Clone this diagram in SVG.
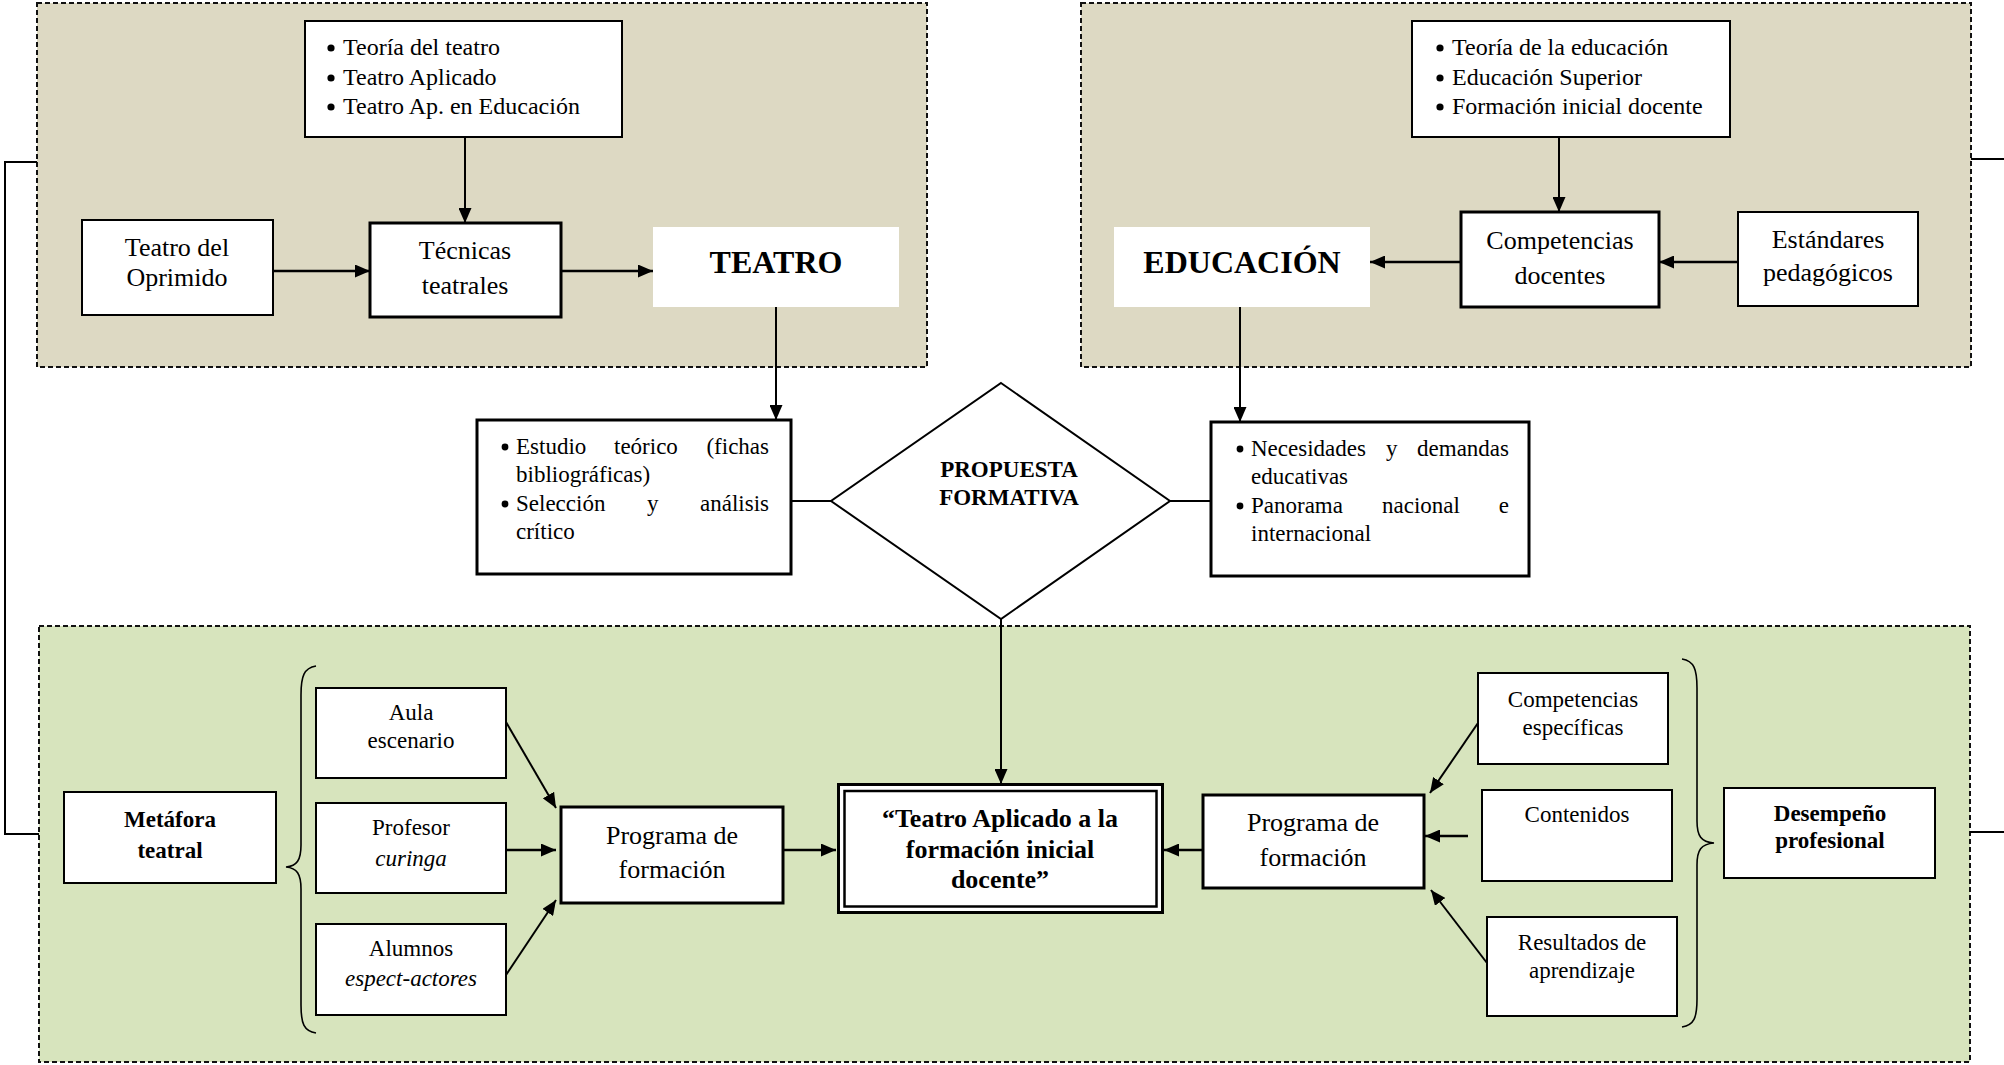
<svg xmlns="http://www.w3.org/2000/svg" width="2004" height="1065" viewBox="0 0 2004 1065">
  <style>
    text { font-family: "Liberation Serif", "Times New Roman", serif; fill: #000; }
    .panel-top { fill: #ddd9c3; stroke: #111; stroke-width: 2; stroke-dasharray: 5 3; }
    .panel-bot { fill: #d7e4bd; stroke: #111; stroke-width: 2; stroke-dasharray: 5 3; }
    .box { fill: #fff; stroke: #000; stroke-width: 2; }
    .box-thick { fill: #fff; stroke: #000; stroke-width: 3; }
    .plain { fill: #fff; stroke: none; }
    .dot { fill: #000; }
    .t24 { font-size: 24px; }
    .t26 { font-size: 26px; text-anchor: middle; }
    .t23 { font-size: 23px; }
    .t23c { font-size: 23px; text-anchor: middle; }
    .b23c { font-size: 23px; font-weight: bold; text-anchor: middle; }
    .b26c { font-size: 26px; font-weight: bold; text-anchor: middle; }
    .b32c { font-size: 32px; font-weight: bold; text-anchor: middle; }
    .it { font-style: italic; }
    .end { text-anchor: end; }
    .link { fill: none; stroke: #000; stroke-width: 2; }
    .arrow { fill: none; stroke: #000; stroke-width: 2.5; marker-end: url(#ah); }
    .brace { fill: none; stroke: #000; stroke-width: 1.6; }
  </style>
  <defs>
    <marker id="ah" markerWidth="15" markerHeight="13" refX="15" refY="6.5" orient="auto" markerUnits="userSpaceOnUse">
      <path d="M0,0 L15,6.5 L0,13 z" fill="#000"/>
    </marker>
  </defs>

  <!-- background panels -->
  <g id="panels">
    <rect class="panel-top" x="37" y="3" width="890" height="364"/>
    <rect class="panel-top" x="1081" y="3" width="890" height="364"/>
    <rect class="panel-bot" x="39" y="626" width="1931" height="436"/>
  </g>

  <!-- connectors -->
  <g id="connectors">
    <!-- side brackets joining the panels -->
    <path class="link" d="M37,162 H5 V834 H39"/>
    <path class="link" d="M1971,159 H2010 V832 H1970"/>
    <!-- theatre panel -->
    <line class="arrow" x1="465" y1="137" x2="465" y2="223" style="stroke-width:2"/>
    <line class="arrow" x1="273" y1="271" x2="370" y2="271"/>
    <line class="arrow" x1="561" y1="271" x2="653" y2="271"/>
    <line class="arrow" x1="776" y1="307" x2="776" y2="420" style="stroke-width:2"/>
    <!-- education panel -->
    <line class="arrow" x1="1559" y1="137" x2="1559" y2="212" style="stroke-width:2"/>
    <line class="arrow" x1="1461" y1="262" x2="1370" y2="262"/>
    <line class="arrow" x1="1738" y1="262" x2="1659" y2="262"/>
    <line class="arrow" x1="1240" y1="307" x2="1240" y2="422" style="stroke-width:2"/>
    <!-- around the proposal -->
    <line class="link" x1="791" y1="501" x2="831" y2="501"/>
    <line class="link" x1="1170" y1="501" x2="1211" y2="501"/>
    <line class="arrow" x1="1001" y1="619" x2="1001" y2="784" style="stroke-width:2"/>
    <!-- left programme -->
    <line class="arrow" x1="506" y1="722" x2="556" y2="808" style="stroke-width:2"/>
    <line class="arrow" x1="506" y1="850" x2="556" y2="850"/>
    <line class="arrow" x1="506" y1="975" x2="556" y2="900" style="stroke-width:2"/>
    <line class="arrow" x1="783" y1="850" x2="836" y2="850"/>
    <!-- right programme -->
    <line class="arrow" x1="1203" y1="850" x2="1164" y2="850"/>
    <line class="arrow" x1="1478" y1="723" x2="1430" y2="793" style="stroke-width:2"/>
    <line class="arrow" x1="1468" y1="836" x2="1425" y2="836"/>
    <line class="arrow" x1="1487" y1="963" x2="1431" y2="890" style="stroke-width:2"/>
    <!-- braces -->
    <path class="brace" d="M316,666 C304,668 301,676 301,695 L301,845 C301,860 297,866 286,867 C297,868 301,874 301,889 L301,1005 C301,1024 304,1031 316,1033"/>
    <path class="brace" d="M1682,659 C1694,661 1697,669 1697,688 L1697,821 C1697,836 1701,842 1714,843 C1701,844 1697,850 1697,865 L1697,999 C1697,1018 1694,1025 1682,1027"/>
  </g>

  <!-- theatre panel nodes -->
  <g id="teoria-teatro">
    <rect class="box" x="305" y="21" width="317" height="116"/>
    <circle class="dot" cx="331" cy="48" r="3.6"/><text class="t24" x="343" y="55">Teoría del teatro</text>
    <circle class="dot" cx="331" cy="78" r="3.6"/><text class="t24" x="343" y="85">Teatro Aplicado</text>
    <circle class="dot" cx="331" cy="107" r="3.6"/><text class="t24" x="343" y="114">Teatro Ap. en Educación</text>
  </g>
  <g id="teatro-oprimido">
    <rect class="box" x="82" y="220" width="191" height="95"/>
    <text class="t26" x="177" y="256">Teatro del</text>
    <text class="t26" x="177" y="286">Oprimido</text>
  </g>
  <g id="tecnicas">
    <rect class="box-thick" x="370" y="223" width="191" height="94"/>
    <text class="t26" x="465" y="259">Técnicas</text>
    <text class="t26" x="465" y="294">teatrales</text>
  </g>
  <g id="teatro">
    <rect class="plain" x="653" y="227" width="246" height="80"/>
    <text class="b32c" x="776" y="273">TEATRO</text>
  </g>

  <!-- education panel nodes -->
  <g id="teoria-educacion">
    <rect class="box" x="1412" y="21" width="318" height="116"/>
    <circle class="dot" cx="1440" cy="48" r="3.6"/><text class="t24" x="1452" y="55">Teoría de la educación</text>
    <circle class="dot" cx="1440" cy="78" r="3.6"/><text class="t24" x="1452" y="85">Educación Superior</text>
    <circle class="dot" cx="1440" cy="107" r="3.6"/><text class="t24" x="1452" y="114">Formación inicial docente</text>
  </g>
  <g id="educacion">
    <rect class="plain" x="1114" y="227" width="256" height="80"/>
    <text class="b32c" x="1242" y="273">EDUCACIÓN</text>
  </g>
  <g id="competencias-docentes">
    <rect class="box-thick" x="1461" y="212" width="198" height="95"/>
    <text class="t26" x="1560" y="249">Competencias</text>
    <text class="t26" x="1560" y="284">docentes</text>
  </g>
  <g id="estandares">
    <rect class="box" x="1738" y="212" width="180" height="94"/>
    <text class="t26" x="1828" y="248">Estándares</text>
    <text class="t26" x="1828" y="281">pedagógicos</text>
  </g>

  <!-- proposal row -->
  <g id="estudio">
    <rect class="box-thick" x="477" y="420" width="314" height="154"/>
    <circle class="dot" cx="505" cy="447" r="3.4"/>
    <text class="t23" x="516" y="454">Estudio</text>
    <text class="t23" x="614" y="454">teórico</text>
    <text class="t23 end" x="769" y="454">(fichas</text>
    <text class="t23" x="516" y="482">bibliográficas)</text>
    <circle class="dot" cx="505" cy="504" r="3.4"/>
    <text class="t23" x="516" y="511">Selección</text>
    <text class="t23" x="647" y="511">y</text>
    <text class="t23 end" x="769" y="511">análisis</text>
    <text class="t23" x="516" y="539">crítico</text>
  </g>
  <g id="propuesta">
    <polygon points="1001,383 1170,501 1001,619 831,501" fill="#fff" stroke="#000" stroke-width="2"/>
    <text class="b23c" x="1009" y="477">PROPUESTA</text>
    <text class="b23c" x="1009" y="505">FORMATIVA</text>
  </g>
  <g id="necesidades">
    <rect class="box-thick" x="1211" y="422" width="318" height="154"/>
    <circle class="dot" cx="1240" cy="449" r="3.4"/>
    <text class="t23" x="1251" y="456">Necesidades</text>
    <text class="t23" x="1386" y="456">y</text>
    <text class="t23 end" x="1509" y="456">demandas</text>
    <text class="t23" x="1251" y="484">educativas</text>
    <circle class="dot" cx="1240" cy="506" r="3.4"/>
    <text class="t23" x="1251" y="513">Panorama</text>
    <text class="t23" x="1382" y="513">nacional</text>
    <text class="t23 end" x="1509" y="513">e</text>
    <text class="t23" x="1251" y="541">internacional</text>
  </g>

  <!-- training panel: left side -->
  <g id="metafora">
    <rect class="box" x="64" y="792" width="212" height="91"/>
    <text class="b23c" x="170" y="827">Metáfora</text>
    <text class="b23c" x="170" y="858">teatral</text>
  </g>
  <g id="aula">
    <rect class="box" x="316" y="688" width="190" height="90"/>
    <text class="t23c" x="411" y="720">Aula</text>
    <text class="t23c" x="411" y="748">escenario</text>
  </g>
  <g id="profesor">
    <rect class="box" x="316" y="803" width="190" height="90"/>
    <text class="t23c" x="411" y="835">Profesor</text>
    <text class="t23c it" x="411" y="866">curinga</text>
  </g>
  <g id="alumnos">
    <rect class="box" x="316" y="924" width="190" height="91"/>
    <text class="t23c" x="411" y="956">Alumnos</text>
    <text class="t23c it" x="411" y="986">espect-actores</text>
  </g>
  <g id="programa-izq">
    <rect class="box-thick" x="561" y="807" width="222" height="96"/>
    <text class="t26" x="672" y="844">Programa de</text>
    <text class="t26" x="672" y="878">formación</text>
  </g>

  <!-- training panel: centre -->
  <g id="teatro-aplicado">
    <rect x="838.5" y="784.5" width="324" height="128" fill="#fff" stroke="#000" stroke-width="3"/>
    <rect x="844.5" y="791" width="312" height="115.5" fill="none" stroke="#000" stroke-width="2.5"/>
    <text class="b26c" x="1000" y="827">“Teatro Aplicado a la</text>
    <text class="b26c" x="1000" y="858">formación inicial</text>
    <text class="b26c" x="1000" y="888">docente”</text>
  </g>

  <!-- training panel: right side -->
  <g id="programa-der">
    <rect class="box-thick" x="1203" y="795" width="221" height="93"/>
    <text class="t26" x="1313" y="831">Programa de</text>
    <text class="t26" x="1313" y="866">formación</text>
  </g>
  <g id="competencias-especificas">
    <rect class="box" x="1478" y="673" width="190" height="91"/>
    <text class="t23c" x="1573" y="707">Competencias</text>
    <text class="t23c" x="1573" y="735">específicas</text>
  </g>
  <g id="contenidos">
    <rect class="box" x="1482" y="790" width="190" height="91"/>
    <text class="t23c" x="1577" y="822">Contenidos</text>
  </g>
  <g id="resultados">
    <rect class="box" x="1487" y="917" width="190" height="99"/>
    <text class="t23c" x="1582" y="950">Resultados de</text>
    <text class="t23c" x="1582" y="978">aprendizaje</text>
  </g>
  <g id="desempeno">
    <rect class="box" x="1724" y="788" width="211" height="90"/>
    <text class="b23c" x="1830" y="821">Desempeño</text>
    <text class="b23c" x="1830" y="848">profesional</text>
  </g>
</svg>
